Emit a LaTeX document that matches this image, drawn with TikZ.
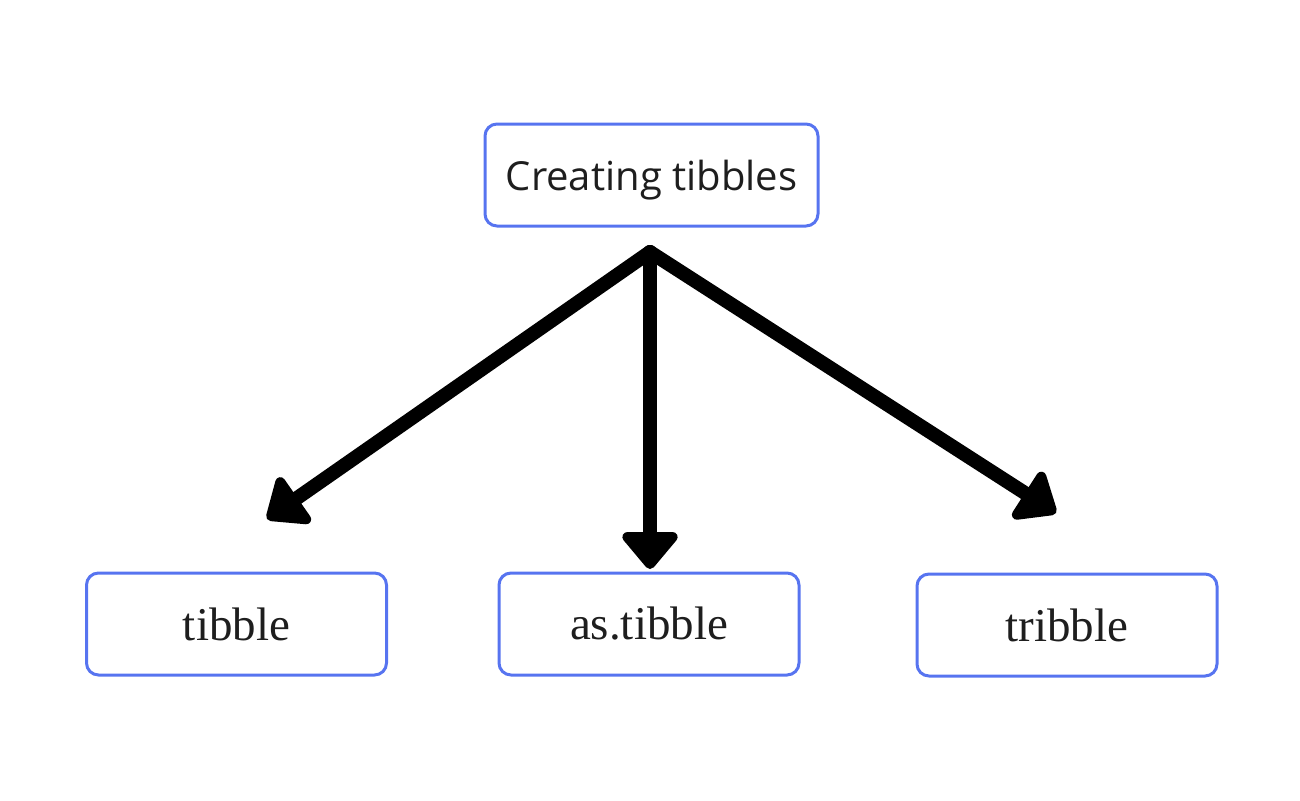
\documentclass[tikz,border=0pt]{standalone}
\usepackage{fontspec}
\setmainfont{Liberation Serif}
\newfontfamily\topfont{Open Sans}
\usetikzlibrary{arrows.meta}
\definecolor{boxblue}{HTML}{5774F0}
\definecolor{txt}{HTML}{1E1E1E}
\tikzset{
  box/.style={draw=boxblue, line width=1.5pt, rounded corners=6pt, minimum width=150pt, minimum height=51pt, inner sep=0pt, text=txt},
  bigarrow/.style={line width=7pt, line cap=round, -{Triangle[round, length=20pt, width=32pt]}},
}
\begin{document}
\begin{tikzpicture}[x=0.5pt, y=-0.5pt]
\useasboundingbox (0,0) rectangle (1300,800);
\node[box, minimum width=166.5pt, text depth=0pt, font=\topfont\fontsize{20}{24}\selectfont] (top) at (651.5,175) {Creating tibbles};
\node[box, font=\fontsize{23.5}{27}\selectfont] (l) at (236.5,624) {tibble};
\node[box, font=\fontsize{23.5}{27}\selectfont] (m) at (649,624) {as.tibble};
\node[box, font=\fontsize{23.5}{27}\selectfont] (r) at (1067,625) {tribble};
\coordinate (hub) at (650,252);
\coordinate (lt) at (267,519);
\coordinate (mt) at (650,569);
\coordinate (rt) at (1056,513);
\draw[bigarrow] (hub) -- (lt);
\draw[bigarrow] (hub) -- (mt);
\draw[bigarrow] (hub) -- (rt);
\end{tikzpicture}
\end{document}
